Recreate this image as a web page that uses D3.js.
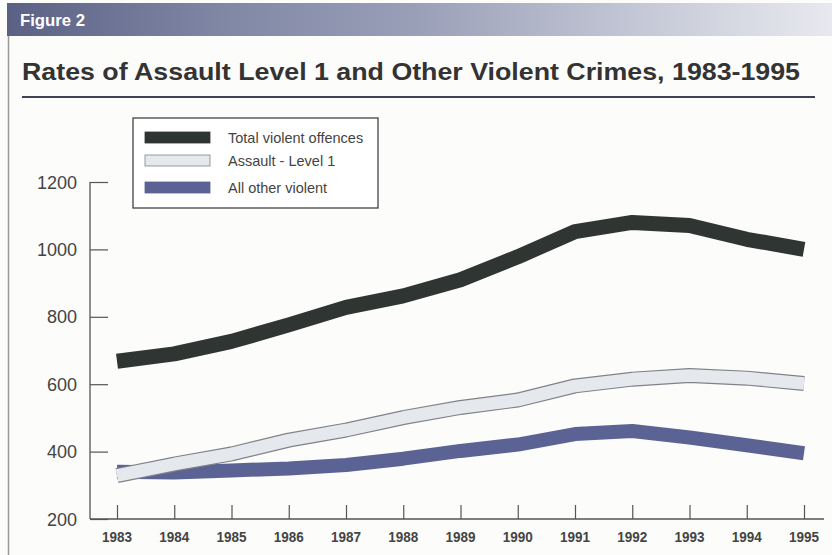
<!DOCTYPE html>
<html>
<head>
<meta charset="utf-8">
<script src="https://cdn.jsdelivr.net/npm/d3@7"></script>
<style>
  html, body { margin: 0; padding: 0; background: #fcfcfa; }
  svg { display: block; }
</style>
</head>
<body>
<svg id="chart" width="832" height="555"></svg>
<script>
// Rates per 100,000 population, 1983-1995
const years = [1983, 1984, 1985, 1986, 1987, 1988, 1989, 1990, 1991, 1992, 1993, 1994, 1995];
const totalViolent = [668, 690, 727, 776, 828, 862, 910, 978, 1053, 1080, 1071, 1030, 1000];
const assaultLevel1 = [329, 363, 393, 434, 464, 501, 531, 553, 595, 615, 626, 618, 602];
const allOtherViolent = [340, 338, 344, 350, 360, 379, 402, 421, 452, 461, 442, 419, 395];
const yTicks = [200, 400, 600, 800, 1000, 1200];
const seriesNames = ["Total violent offences", "Assault - Level 1", "All other violent"];

const svg = d3.select("#chart");

// Header band with gradient
const defs = svg.append("defs");
const grad = defs.append("linearGradient").attr("id", "hdr").attr("x1", "0%").attr("x2", "100%");
grad.append("stop").attr("offset", "0%").attr("stop-color", "#5a6184");
grad.append("stop").attr("offset", "25%").attr("stop-color", "#7f86a4");
grad.append("stop").attr("offset", "50%").attr("stop-color", "#9aa0b8");
grad.append("stop").attr("offset", "75%").attr("stop-color", "#c2c5d4");
grad.append("stop").attr("offset", "100%").attr("stop-color", "#e8e9ef");
svg.append("rect").attr("x", 7).attr("y", 3).attr("width", 825).attr("height", 33).attr("fill", "url(#hdr)");
svg.append("text").attr("x", 20).attr("y", 26)
  .attr("font-family", "'Liberation Sans Narrow', 'Liberation Sans', Arial, sans-serif")
  .attr("font-weight", "bold").attr("font-size", 17).attr("fill", "#ffffff")
  .attr("textLength", 65).attr("lengthAdjust", "spacingAndGlyphs")
  .text("Figure 2");

// Left frame line
svg.append("line").attr("x1", 8.5).attr("x2", 8.5).attr("y1", 36).attr("y2", 555)
  .attr("stroke", "#9a9a9a").attr("stroke-width", 1.5);

// Title and rule
svg.append("text").attr("x", 22).attr("y", 80)
  .attr("font-family", "'Liberation Sans', Arial, sans-serif")
  .attr("font-weight", "bold").attr("font-size", 24).attr("fill", "#333333")
  .attr("textLength", 778).attr("lengthAdjust", "spacingAndGlyphs")
  .text("Rates of Assault Level 1 and Other Violent Crimes, 1983-1995");
svg.append("line").attr("x1", 22).attr("x2", 815).attr("y1", 97).attr("y2", 97)
  .attr("stroke", "#3e4250").attr("stroke-width", 2);

// Scales
const x = d3.scaleLinear().domain([1983, 1995]).range([117, 804]);
const y = d3.scaleLinear().domain([200, 1200]).range([519, 182]);

// Y axis
const yAxis = svg.append("g").attr("transform", "translate(90,0)")
  .call(d3.axisRight(y).tickValues(yTicks).tickSize(18).tickFormat(""));
yAxis.select(".domain").remove();
yAxis.selectAll(".tick line").attr("stroke", "#555").attr("stroke-width", 1.2);
svg.append("line").attr("x1", 90).attr("x2", 90).attr("y1", y(1200)).attr("y2", y(200))
  .attr("stroke", "#555").attr("stroke-width", 1.3);
svg.append("g").selectAll("text").data(yTicks).join("text")
  .attr("x", 77).attr("y", d => y(d) + 6.5)
  .attr("text-anchor", "end")
  .attr("font-family", "'Liberation Sans', Arial, sans-serif")
  .attr("font-size", 18).attr("fill", "#444")
  .text(d => d);

// X axis
const xAxis = svg.append("g").attr("transform", `translate(0,${y(200)})`)
  .call(d3.axisTop(x).tickValues(years).tickSize(14).tickFormat(""));
xAxis.select(".domain").remove();
xAxis.selectAll(".tick line").attr("stroke", "#555").attr("stroke-width", 1.2);
svg.append("line").attr("x1", 90).attr("x2", 824).attr("y1", y(200)).attr("y2", y(200))
  .attr("stroke", "#555").attr("stroke-width", 1.3);
svg.append("g").selectAll("text").data(years).join("text")
  .attr("x", d => x(d)).attr("y", 542)
  .attr("text-anchor", "middle")
  .attr("font-family", "'Liberation Sans Narrow', 'Liberation Sans', Arial, sans-serif")
  .attr("font-weight", "bold").attr("font-size", 14).attr("fill", "#444")
  .attr("textLength", 30).attr("lengthAdjust", "spacingAndGlyphs")
  .text(d => d);

// Lines
const line = d3.line().x((d, i) => x(years[i])).y(d => y(d));
function band(values, color, width) {
  svg.append("path").datum(values).attr("d", line)
    .attr("fill", "none").attr("stroke", color).attr("stroke-width", width)
    .attr("stroke-linejoin", "round").attr("stroke-linecap", "butt");
}
band(totalViolent, "#2f3532", 15);
band(allOtherViolent, "#5b6394", 14);
band(assaultLevel1, "#808289", 15);
band(assaultLevel1, "#e5e8ec", 12.6);

// Legend
const lg = svg.append("g");
lg.append("rect").attr("x", 133).attr("y", 118).attr("width", 245).attr("height", 90)
  .attr("fill", "#ffffff").attr("stroke", "#444").attr("stroke-width", 1.3);
const swatches = [
  { fill: "#2f3532", stroke: "#2f3532" },
  { fill: "#e5e8ec", stroke: "#808289" },
  { fill: "#5b6394", stroke: "#5b6394" }
];
const legendY = [137.5, 160.5, 187.5];
seriesNames.forEach((name, i) => {
  lg.append("rect").attr("x", 145).attr("y", legendY[i] - 5.5).attr("width", 65).attr("height", 11)
    .attr("fill", swatches[i].fill).attr("stroke", swatches[i].stroke).attr("stroke-width", 0.8);
  lg.append("text").attr("x", 228).attr("y", legendY[i] + 5)
    .attr("font-family", "'Liberation Sans', Arial, sans-serif")
    .attr("font-size", 14.5).attr("fill", "#444")
    .text(name);
});
</script>
</body>
</html>
